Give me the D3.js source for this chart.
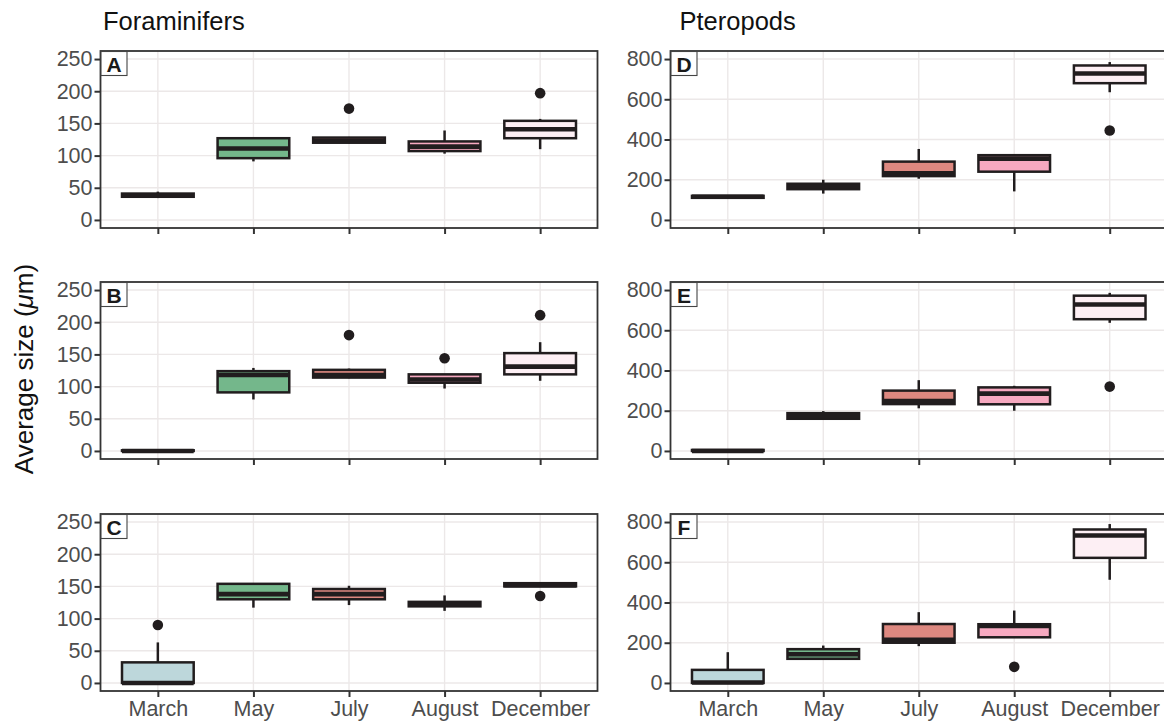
<!DOCTYPE html>
<html>
<head>
<meta charset="utf-8">
<script src="https://cdn.jsdelivr.net/npm/d3@7"></script>
<style>
  body { margin: 0; background: #fff; }
  svg { font-family: "Liberation Sans", Arial, sans-serif; }
</style>
</head>
<body>
<svg id="chart" width="1164" height="725"></svg>
<script>
// months on the x axis, and box fill per month
var months = ["March", "May", "July", "August", "December"];
var fills = ["#bdd7db", "#74b78b", "#dd8880", "#f7a9c0", "#fdeff4"];

var foramTicks = [0, 50, 100, 150, 200, 250];
var pteroTicks = [0, 200, 400, 600, 800];

// box stats per month: [lower whisker, q1, median, q3, upper whisker]
var statsA = [[34, 36, 38, 41, 44], [91, 96, 111, 127, 127], [119, 120, 123, 128, 129], [103, 107, 114, 122, 139], [110, 127, 141, 154, 157]];
var outA = [[], [], [173], [], [197]];
var statsB = [[0, 0, 0, 1, 1], [80, 91, 118, 124, 129], [113, 114, 118, 126, 128], [97, 106, 111, 119, 119], [109, 119, 131, 152, 169]];
var outB = [[], [], [180], [144], [211]];
var statsC = [[0, 0, 0, 32, 63], [117, 130, 138, 154, 154], [121, 130, 138, 146, 151], [112, 119, 122, 126, 136], [149, 150, 152, 155, 156]];
var outC = [[90], [], [], [], [135]];

var statsD = [[108, 110, 115, 120, 122], [131, 153, 166, 180, 200], [205, 218, 232, 290, 353], [142, 240, 305, 322, 328], [635, 680, 728, 768, 785]];
var outD = [[], [], [], [], [445]];
var statsE = [[0, 0, 0, 5, 5], [160, 160, 172, 188, 198], [212, 233, 248, 300, 352], [200, 232, 285, 316, 324], [637, 655, 728, 772, 786]];
var outE = [[], [], [], [], [320]];
var statsF = [[0, 0, 2, 65, 153], [118, 120, 143, 168, 186], [183, 200, 215, 293, 352], [225, 227, 284, 292, 360], [513, 622, 733, 763, 790]];
var outF = [[], [], [], [80], []];

var svg = d3.select("#chart");

var cols = [{x0: 100.5, x1: 597.5, ticks: foramTicks, max: 250, title: "Foraminifers", titleX: 103},
            {x0: 670.5, x1: 1167, ticks: pteroTicks, max: 800, title: "Pteropods", titleX: 679.5}];
var rows = [{y0: 51, y1: 228}, {y0: 282, y1: 459}, {y0: 514, y1: 691}];

var panels = [
  {col: 0, row: 0, tag: "A", stats: statsA, out: outA},
  {col: 0, row: 1, tag: "B", stats: statsB, out: outB},
  {col: 0, row: 2, tag: "C", stats: statsC, out: outC},
  {col: 1, row: 0, tag: "D", stats: statsD, out: outD},
  {col: 1, row: 1, tag: "E", stats: statsE, out: outE},
  {col: 1, row: 2, tag: "F", stats: statsF, out: outF}
];

var boxStroke = "#211d1e";
var fontFam = "'Liberation Sans', Arial, sans-serif";

panels.forEach(function(p) {
  var c = cols[p.col], r = rows[p.row];
  var pad = c.max * 0.05;

  // discrete axis with 0.6 units of expansion each side, like ggplot
  var step = (c.x1 - c.x0) / 5.2;
  var x = d3.scalePoint().domain(months)
    .range([c.x0 + step * 0.6, c.x1 - step * 0.6]);

  var y = d3.scaleLinear().domain([-pad, c.max + pad]).range([r.y1, r.y0]);

  var g = svg.append("g");

  // grid
  g.selectAll("line.hgrid").data(c.ticks).enter().append("line")
    .attr("x1", c.x0).attr("x2", c.x1)
    .attr("y1", function(d) { return y(d); }).attr("y2", function(d) { return y(d); })
    .style("stroke", "#ece8e8").style("stroke-width", 1.4);
  g.selectAll("line.vgrid").data(months).enter().append("line")
    .attr("y1", r.y0).attr("y2", r.y1)
    .attr("x1", function(d) { return x(d); }).attr("x2", function(d) { return x(d); })
    .style("stroke", "#ece8e8").style("stroke-width", 1.4);

  // axes
  var yAxis = d3.axisLeft(y).tickValues(c.ticks).tickSize(6).tickPadding(2);
  var gy = g.append("g").attr("transform", "translate(" + c.x0 + ",0)").call(yAxis);
  gy.select(".domain").remove();
  gy.selectAll(".tick line").style("stroke", "#333").style("stroke-width", 2);
  gy.selectAll(".tick text").style("font-size", "21.5px").style("fill", "#4d4d4d")
    .style("font-family", fontFam);

  var xAxis = d3.axisBottom(x).tickSize(6).tickPadding(4);
  var gx = g.append("g").attr("transform", "translate(0," + r.y1 + ")").call(xAxis);
  gx.select(".domain").remove();
  gx.selectAll(".tick line").style("stroke", "#333").style("stroke-width", 2);
  if (p.row == 2) {
    gx.selectAll(".tick text").style("font-size", "21.5px").style("fill", "#4d4d4d")
      .style("font-family", fontFam);
  } else {
    gx.selectAll(".tick text").remove();
  }

  var bw = step * 0.75;
  var data = months.map(function(m, i) {
    return {m: m, s: p.stats[i], out: p.out[i], fill: fills[i]};
  });

  var box = g.selectAll("g.box").data(data).enter().append("g").attr("class", "box");
  // whiskers
  box.append("line")
    .attr("x1", function(d) { return x(d.m); }).attr("x2", function(d) { return x(d.m); })
    .attr("y1", function(d) { return y(d.s[0]); }).attr("y2", function(d) { return y(d.s[1]); })
    .style("stroke", boxStroke).style("stroke-width", 2.5);
  box.append("line")
    .attr("x1", function(d) { return x(d.m); }).attr("x2", function(d) { return x(d.m); })
    .attr("y1", function(d) { return y(d.s[3]); }).attr("y2", function(d) { return y(d.s[4]); })
    .style("stroke", boxStroke).style("stroke-width", 2.5);
  box.append("rect")
    .attr("x", function(d) { return x(d.m) - bw / 2; })
    .attr("width", bw)
    .attr("y", function(d) { return y(d.s[3]); })
    .attr("height", function(d) { return y(d.s[1]) - y(d.s[3]); })
    .style("fill", function(d) { return d.fill; })
    .style("stroke", boxStroke).style("stroke-width", 2.5);
  box.append("line")
    .attr("x1", function(d) { return x(d.m) - bw / 2; }).attr("x2", function(d) { return x(d.m) + bw / 2; })
    .attr("y1", function(d) { return y(d.s[2]); }).attr("y2", function(d) { return y(d.s[2]); })
    .style("stroke", boxStroke).style("stroke-width", 4.6);
  box.selectAll("circle").data(function(d) { return d.out.map(function(v) { return {m: d.m, v: v}; }); })
    .enter().append("circle")
    .attr("cx", function(d) { return x(d.m); })
    .attr("cy", function(d) { return y(d.v); })
    .attr("r", 5.3)
    .style("fill", boxStroke);

  // panel border
  g.append("rect")
    .attr("x", c.x0).attr("y", r.y0)
    .attr("width", c.x1 - c.x0).attr("height", r.y1 - r.y0)
    .style("fill", "none").style("stroke", "#333").style("stroke-width", 1.8);

  // panel tag
  g.append("rect")
    .attr("x", c.x0 + 0.5).attr("y", r.y0 + 0.5).attr("width", 26).attr("height", 24)
    .style("fill", "#fff").style("stroke", "#444").style("stroke-width", 1.1);
  g.append("text")
    .attr("x", c.x0 + 13.5).attr("y", r.y0 + 21)
    .attr("text-anchor", "middle")
    .style("font-size", "21px").style("font-weight", "bold").style("fill", "#1a1a1a")
    .text(p.tag);
});

// column titles
cols.forEach(function(c) {
  svg.append("text")
    .attr("x", c.titleX).attr("y", 29.5)
    .style("font-size", "25.5px").style("fill", "#111")
    .text(c.title);
});

// y axis title
var yt = svg.append("text")
  .attr("transform", "translate(33,369) rotate(-90)")
  .attr("text-anchor", "middle")
  .style("font-size", "26px").style("fill", "#111");
yt.append("tspan").text("Average size (");
yt.append("tspan").style("font-style", "italic").text("\u03bc");
yt.append("tspan").text("m)");
</script>
</body>
</html>
